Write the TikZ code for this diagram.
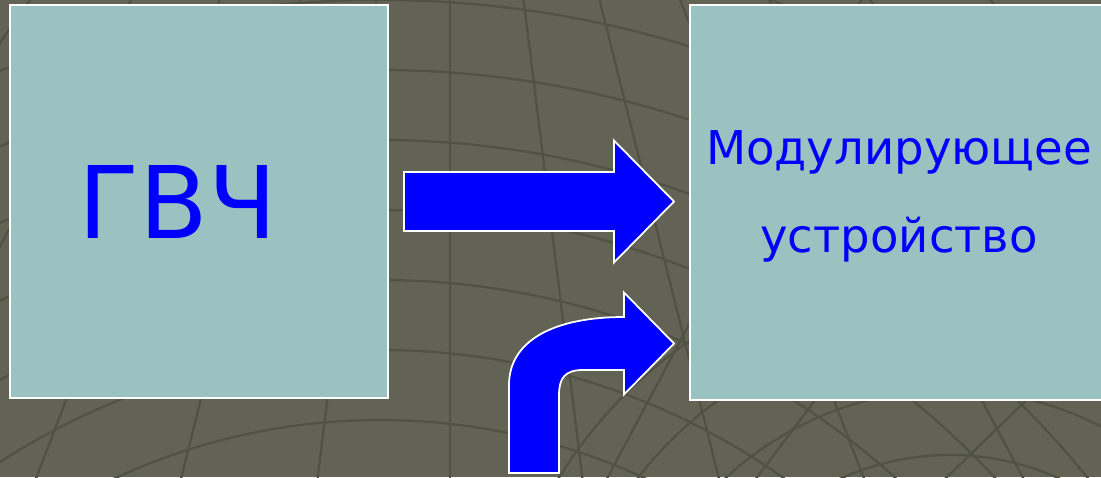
\documentclass[tikz,border=0pt]{standalone}
\usepackage{fontspec}
\setmainfont{DejaVu Sans}
\usetikzlibrary{positioning, calc}
\definecolor{slidebg}{RGB}{98, 99, 84}
\definecolor{slidegrid}{RGB}{80, 82, 68}
\definecolor{boxteal}{RGB}{153, 194, 192}
\definecolor{signalblue}{RGB}{0, 0, 255}
\tikzset{
  block/.style={
    draw=white,
    line width=1.2pt,
    fill=boxteal,
    inner sep=0pt
  },
  blockarrow/.style={
    draw=white,
    line width=1pt,
    fill=signalblue,
    line join=miter
  },
  gridline/.style={
    draw=slidegrid,
    line width=1.3pt
  }
}

\begin{document}
\begin{tikzpicture}[x=0.02cm, y=-0.02cm]
  \useasboundingbox (0,0) rectangle (1101,477);
  \clip (0,0) rectangle (1101,477);
  \fill[slidebg] (0,0) rectangle (1101,477);

  % background grid
  \foreach \r in {560,630,...,1120}
    \draw[gridline] (380,1050) circle[radius=\r];
  \foreach \a in {-42,-35,...,42}
    \draw[gridline] (450,-600) -- ++(90+\a:1900);
  \foreach \r in {200,265,...,480}
    \draw[gridline] (950,720) circle[radius=\r];
  \foreach \a in {-62,-53,...,-12}
    \draw[gridline] (250,1150) -- ++(\a:1400);

  % boxes
  \node[block, minimum width=7.56cm, minimum height=7.86cm] (gvch) at (199,201.5) {};
  \node[block, minimum width=8.36cm, minimum height=7.9cm] (modul) at (899,202.5) {};
  \node[font=\fontsize{57}{60}\selectfont\color{signalblue}] (gvchtext)
    at ($(gvch.center)+(-21,0)$) {ГВЧ};
  \node[font=\fontsize{26.5}{50}\selectfont\color{signalblue}, align=center] (modtext)
    at ($(modul.center)+(0,-6)$) {Модулирующее\\устройство};

  % arrows
  \coordinate (tipA) at ($(modul.west)+(-15,-1)$);
  \coordinate (tipB) at ($(modul.west)+(-15,141)$);
  \coordinate (tailB) at (534,473);
  \draw[blockarrow] ($(gvch.east)+(15,-29.5)$) -- ($(tipA)+(-60,-29.5)$)
    -- ($(tipA)+(-60,-61)$) -- (tipA) -- ($(tipA)+(-60,61)$)
    -- ($(tipA)+(-60,29.5)$) -- ($(gvch.east)+(15,29.5)$) -- cycle;
  \draw[blockarrow] ($(tailB)+(-25,0)$) -- ($(tailB)+(-25,-88)$)
    .. controls ($(tailB)+(-25,-133)$) and ($(tailB)+(21,-156)$) .. ($(tipB)+(-50,-26.5)$)
    -- ($(tipB)+(-50,-51)$) -- (tipB) -- ($(tipB)+(-50,51)$) -- ($(tipB)+(-50,26.5)$)
    -- ($(tipB)+(-91,26.5)$)
    .. controls ($(tipB)+(-109,26.5)$) and ($(tailB)+(25,-95)$) .. ($(tailB)+(25,-78)$)
    -- ($(tailB)+(25,0)$) -- cycle;
\end{tikzpicture}
\end{document}
